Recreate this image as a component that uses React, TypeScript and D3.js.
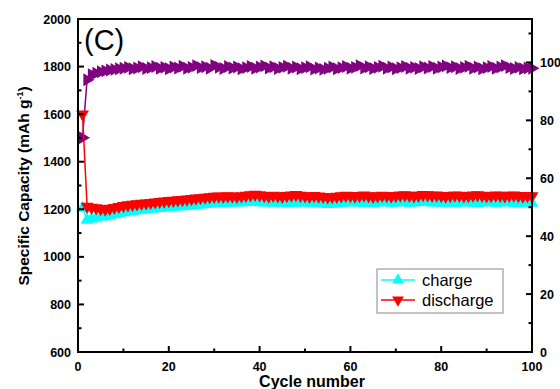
import React from "react";
import * as d3 from "d3";

const cycles: number[] = Array.from({ length: 100 }, (_, i) => i + 1);

const charge: number[] = [
  1205, 1155, 1160, 1163, 1168, 1170, 1174, 1178, 1182, 1186,
  1190, 1192, 1195, 1197, 1199, 1201, 1203, 1204, 1206, 1208,
  1209, 1211, 1212, 1214, 1215, 1217, 1219, 1221, 1223, 1224,
  1226, 1225, 1227, 1226, 1228, 1227, 1229, 1232, 1230, 1228,
  1227, 1229, 1226, 1228, 1227, 1225, 1228, 1226, 1229, 1227,
  1226, 1228, 1225, 1223, 1221, 1222, 1224, 1226, 1228, 1227,
  1229, 1227, 1226, 1228, 1225, 1227, 1229, 1228, 1226, 1227,
  1229, 1228, 1226, 1227, 1229, 1231, 1229, 1227, 1228, 1226,
  1228, 1227, 1225, 1227, 1229, 1228, 1226, 1225, 1227, 1229,
  1228, 1226, 1227, 1229, 1228, 1226, 1225, 1227, 1228, 1226,
];

const discharge: number[] = [
  1600, 1212, 1208, 1205, 1202, 1200, 1203, 1207, 1211, 1215,
  1218, 1220, 1222, 1224, 1226, 1228, 1230, 1232, 1234, 1236,
  1237, 1239, 1240, 1242, 1244, 1246, 1248, 1250, 1252, 1254,
  1255, 1254, 1256, 1255, 1253, 1256, 1258, 1260, 1262, 1260,
  1257, 1255, 1258, 1256, 1254, 1257, 1259, 1261, 1258, 1256,
  1254, 1257, 1255, 1253, 1251, 1252, 1254, 1256, 1258, 1257,
  1255, 1257, 1259, 1256, 1254, 1256, 1258, 1257, 1255, 1257,
  1259, 1260, 1258, 1256, 1258, 1261, 1260, 1258, 1259, 1257,
  1255, 1257, 1259, 1258, 1256, 1257, 1259, 1260, 1258, 1256,
  1257, 1259, 1258, 1256, 1258, 1259, 1257, 1255, 1257, 1256,
];

const efficiency: number[] = [
  74.0, 94.0, 95.8, 96.3, 96.8, 97.1, 97.4, 97.6, 97.8, 98.0,
  98.3, 97.8, 98.1, 98.5, 97.9, 98.2, 98.6, 98.0, 98.3, 97.8,
  98.4, 98.1, 98.7, 98.0, 98.3, 98.9, 98.2, 98.5, 98.0, 99.0,
  98.3, 97.9, 98.6, 98.1, 98.4, 97.8, 98.2, 98.6, 98.0, 98.4,
  98.8, 98.1, 98.5, 97.9, 98.3, 98.7, 98.0, 98.4, 97.8, 98.2,
  98.5, 97.7, 98.1, 97.6, 98.0, 98.4, 97.8, 98.2, 98.6, 98.0,
  98.3, 98.9, 98.1, 98.5, 97.9, 98.3, 98.7, 98.0, 98.4, 97.8,
  98.2, 98.6, 98.0, 98.3, 97.9, 98.5, 98.1, 98.6, 98.0, 98.4,
  98.8, 98.2, 98.5, 97.9, 98.3, 98.7, 98.0, 98.4, 97.8, 98.2,
  98.6, 98.0, 98.4, 98.9, 98.2, 97.9, 98.3, 97.8, 98.1, 98.0,
];

const xTicks = [0, 20, 40, 60, 80, 100];
const xMinor = [10, 30, 50, 70, 90];
const yTicks = [600, 800, 1000, 1200, 1400, 1600, 1800, 2000];
const yMinor = [700, 900, 1100, 1300, 1500, 1700, 1900];
const y2Ticks = [0, 20, 40, 60, 80, 100];
const y2Minor = [10, 30, 50, 70, 90, 110];
const legendItems = ["charge", "discharge"];

const W = 560, H = 389;
const L = 78, R = 532, T = 19, B = 352;
const FONT = "'Liberation Sans', Arial, sans-serif";

export default function App() {
  const x = d3.scaleLinear().domain([0, 100]).range([L, R]);
  const y = d3.scaleLinear().domain([600, 2000]).range([B, T]);
  const y2 = d3.scaleLinear().domain([0, 115]).range([B, T]);

  const tri = d3.symbol().type(d3.symbolTriangle).size(72)() as string;
  const triLeg = d3.symbol().type(d3.symbolTriangle).size(60)() as string;

  const lineC = d3.line<number>().x((_, i) => x(cycles[i])).y((d) => y(d));
  const lineE = d3.line<number>().x((_, i) => x(cycles[i])).y((d) => y2(d));

  const cyan = "#00FFFF";
  const red = "#FF0000";
  const purple = "#800080";

  return (
    <svg width={W} height={H} style={{ position: "absolute", left: 0, top: 0, background: "#fff" }}>
      <rect x={0} y={0} width={W} height={H} fill="#fff" />
      {/* efficiency */}
      <path d={lineE(efficiency) || ""} fill="none" stroke={purple} strokeWidth={1.5} />
      {efficiency.map((v, i) => (
        <path key={"e" + i} d={tri} fill={purple} transform={`translate(${x(cycles[i])},${y2(v)}) rotate(90)`} />
      ))}
      {/* charge */}
      <path d={lineC(charge) || ""} fill="none" stroke={cyan} strokeWidth={1.5} />
      {charge.map((v, i) => (
        <path key={"c" + i} d={tri} fill={cyan} transform={`translate(${x(cycles[i])},${y(v)})`} />
      ))}
      {/* discharge */}
      <path d={lineC(discharge) || ""} fill="none" stroke={red} strokeWidth={1.5} />
      {discharge.map((v, i) => (
        <path key={"d" + i} d={tri} fill={red} transform={`translate(${x(cycles[i])},${y(v)}) rotate(180)`} />
      ))}

      {/* frame */}
      <rect x={L} y={T} width={R - L} height={B - T} fill="none" stroke="#000" strokeWidth={2} />

      {/* x ticks */}
      {xTicks.map((t) => (
        <g key={"xt" + t}>
          <line x1={x(t)} x2={x(t)} y1={B} y2={B - 6} stroke="#000" strokeWidth={2} />
          <text x={x(t)} y={371} textAnchor="middle" fontFamily={FONT} fontWeight="bold" fontSize={12.5}>{t}</text>
        </g>
      ))}
      {xMinor.map((t) => (
        <line key={"xm" + t} x1={x(t)} x2={x(t)} y1={B} y2={B - 3.5} stroke="#000" strokeWidth={2} />
      ))}
      {/* left y ticks */}
      {yTicks.map((t) => (
        <g key={"yt" + t}>
          <line x1={L} x2={L + 6} y1={y(t)} y2={y(t)} stroke="#000" strokeWidth={2} />
          <text x={71} y={y(t) + 4.5} textAnchor="end" fontFamily={FONT} fontWeight="bold" fontSize={12.5}>{t}</text>
        </g>
      ))}
      {yMinor.map((t) => (
        <line key={"ym" + t} x1={L} x2={L + 3.5} y1={y(t)} y2={y(t)} stroke="#000" strokeWidth={2} />
      ))}
      {/* right y ticks */}
      {y2Ticks.map((t) => (
        <g key={"y2t" + t}>
          <line x1={R} x2={R - 6} y1={y2(t)} y2={y2(t)} stroke="#000" strokeWidth={2} />
          <text x={540} y={y2(t) + 4.5} textAnchor="start" fontFamily={FONT} fontWeight="bold" fontSize={12.5}>{t}</text>
        </g>
      ))}
      {y2Minor.map((t) => (
        <line key={"y2m" + t} x1={R} x2={R - 3.5} y1={y2(t)} y2={y2(t)} stroke="#000" strokeWidth={2} />
      ))}

      {/* axis titles */}
      <text x={(L + R) / 2 + 7} y={387} textAnchor="middle" fontFamily={FONT} fontWeight="bold" fontSize={16}>Cycle number</text>
      <text transform={`translate(29,186) rotate(-90)`} textAnchor="middle" fontFamily={FONT} fontWeight="bold" fontSize={15.5}>
        Specific Capacity (mAh g<tspan dy={-6} fontSize={9}>-1</tspan><tspan dy={6}>)</tspan>
      </text>

      {/* panel label */}
      <text x={84} y={50} fontFamily={FONT} fontSize={29}>(C)</text>

      {/* legend */}
      <rect x={377} y={269} width={126} height={44} fill="#fff" stroke="#888" strokeWidth={1} />
      {legendItems.map((name, i) => {
        const cy = 280 + i * 20;
        const col = i === 0 ? cyan : red;
        return (
          <g key={name}>
            <line x1={381} x2={415} y1={cy} y2={cy} stroke={col} strokeWidth={1.5} />
            <path d={triLeg} fill={col} transform={`translate(398,${cy}) rotate(${i === 0 ? 0 : 180})`} />
            <text x={422} y={cy + 6} fontFamily={FONT} fontSize={16.5}>{name}</text>
          </g>
        );
      })}
    </svg>
  );
}
